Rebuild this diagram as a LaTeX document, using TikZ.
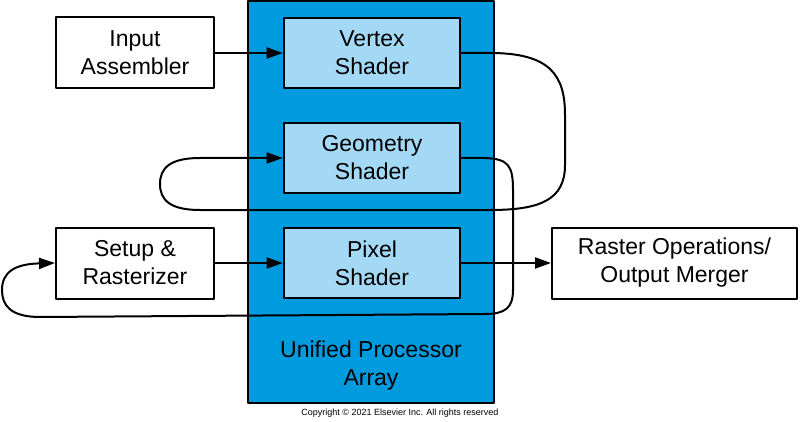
\documentclass[tikz,border=0pt]{standalone}
\usepackage{fontspec}
\setmainfont{Liberation Sans}
\usepackage{tikz}
\usetikzlibrary{arrows.meta}
\definecolor{upablue}{RGB}{0,154,222}
\definecolor{shaderblue}{RGB}{164,217,245}
\begin{document}
\begin{tikzpicture}[line cap=round,line join=round,>={Triangle[length=16pt,width=11pt]},x=1pt,y=-1pt,
  stage/.style={draw,line width=2pt,fill=white,minimum width=158pt,minimum height=71pt,align=center,font=\fontsize{23}{28}\selectfont},
  shader/.style={stage,line width=2.6pt,fill=shaderblue,minimum width=176pt,minimum height=70pt},
  flow/.style={line width=2pt,->}]
\useasboundingbox (0,0) rectangle (800,422);
%\clip (0,0) rectangle (800,422);
\node [draw,line width=1.2pt,fill=upablue,minimum width=246pt,minimum height=402pt] (upa) at (371,202) {};
\node [align=center,font=\fontsize{23}{28}\selectfont] (upalabel) at (371,366) {Unified Processor\\Array};
\node [shader] (vs) at (372,53) {Vertex\\Shader};
\node [shader] (gs) at (372,158) {Geometry\\Shader};
\node [shader] (ps) at (372,263) {Pixel\\Shader};
\node [stage] (ia) at (135,53) {Input\\Assembler};
\node [stage] (sr) at (135,263) {Setup \&\\Rasterizer};
\node [stage,minimum width=245pt] (rop) at (674.5,263) {Raster Operations/\\Output Merger};
\draw [flow] (ia) -- (vs);
\draw [flow] (sr) -- (ps);
\draw [flow] (ps) -- (rop);
\draw [flow] (vs.east) -- (490,53) .. controls (550,53) and (565,75) .. (565,115) -- (565,165)
  .. controls (565,200) and (540,210) .. (490,210) -- (200,210)
  .. controls (170,210) and (160,200) .. (160,184) .. controls (160,168) and (170,158) .. (200,158) -- (gs.west);
\draw [flow] (gs.east) -- (485,158) .. controls (508,159) and (513,165) .. (513,190) -- (513,290)
  .. controls (513,308) and (505,314) .. (485,314) -- (40,317)
  .. controls (10,317) and (2,305) .. (2,290) .. controls (2,272) and (15,264) .. (sr.west);
\node [font=\fontsize{9}{11}\selectfont] (copy) at (400,413) {Copyright © 2021 Elsevier Inc. All rights reserved};
\end{tikzpicture}
\end{document}
